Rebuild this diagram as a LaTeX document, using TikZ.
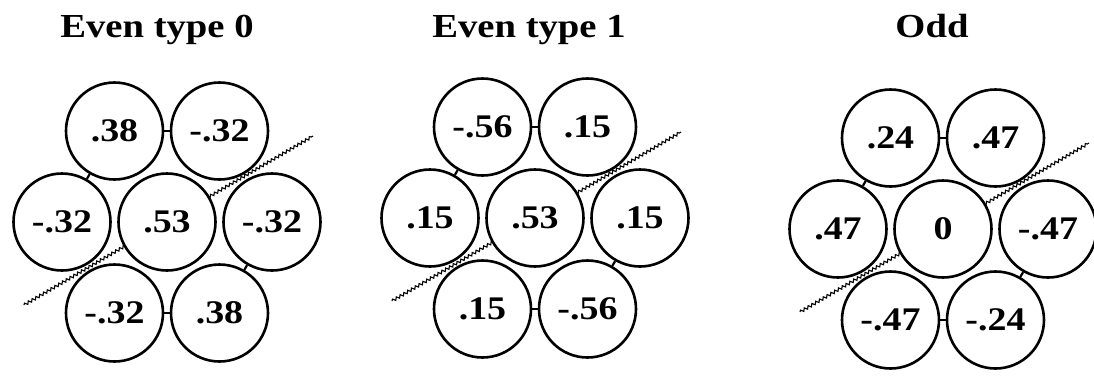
\documentclass[tikz,border=0pt]{standalone}
\usepackage{fontspec}
\setmainfont{Liberation Serif}[FakeStretch=1.15]
\usepackage{tikz}
\usetikzlibrary{calc,decorations.pathmorphing}

\begin{document}
\begin{tikzpicture}[x=0.5pt,y=-0.5pt,
    cell/.style={circle,draw,line width=1.3pt,fill=white,minimum size=48.5pt,inner sep=0pt,font=\fontsize{16.5}{19}\selectfont\bfseries},
    title/.style={anchor=base,font=\fontsize{16.8}{20}\selectfont\bfseries},
    link/.style={line width=1.1pt},
    axisline/.style={line width=0.55pt,decorate,decoration={snake,amplitude=0.7pt,segment length=2.2pt}}]
  \useasboundingbox (0,0) rectangle (1094,377);
  \foreach \p/\cx/\cy/\tx/\ttl/\va/\vb/\vc/\vd/\ve/\vf/\vg in {
      A/167/222/157/{Even type 0}/.38/-.32/-.32/.53/-.32/-.32/.38,
      B/535/218/529/{Even type 1}/-.56/.15/.15/.53/.15/.15/-.56,
      C/943/229/932/{Odd}/.24/.47/.47/0/-.47/-.47/-.24} {
    \node[title] (\p-ttl) at (\tx,37) {\ttl};
    % symmetry axis, hidden under the cells
    \coordinate (\p-s) at (\cx-143,\cy+83);
    \coordinate (\p-e) at (\cx+146,\cy-86);
    \draw[axisline] (\p-s) -- (\p-e);
    \node[cell] (\p-tl) at (\cx-52.5,\cy-91) {\va};
    \node[cell] (\p-tr) at (\cx+52.5,\cy-91) {\vb};
    \node[cell] (\p-ml) at (\cx-105,\cy) {\vc};
    \node[cell] (\p-c)  at (\cx,\cy) {\vd};
    \node[cell] (\p-mr) at (\cx+105,\cy) {\ve};
    \node[cell] (\p-bl) at (\cx-52.5,\cy+91) {\vf};
    \node[cell] (\p-br) at (\cx+52.5,\cy+91) {\vg};
    \draw[link] (\p-tl) -- (\p-tr);
    \draw[link] (\p-tl) -- (\p-ml);
    \draw[link] (\p-mr) -- (\p-br);
    \draw[link] (\p-bl) -- (\p-br);
  }
\end{tikzpicture}
\end{document}
